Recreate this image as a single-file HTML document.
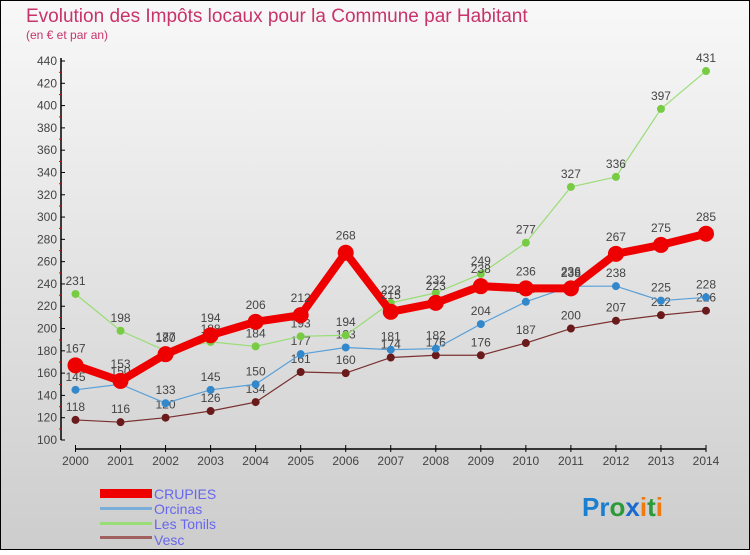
<!DOCTYPE html>
<html><head><meta charset="utf-8"><style>
html,body{margin:0;padding:0}
body{width:750px;height:550px;overflow:hidden;font-family:"Liberation Sans","DejaVu Sans",sans-serif}
</style></head><body>
<svg id="chart" width="750" height="550" xmlns="http://www.w3.org/2000/svg">
<defs><linearGradient id="bg" x1="0" y1="0" x2="0" y2="1"><stop offset="0" stop-color="#f8f8f8"/><stop offset="1" stop-color="#cdcdcd"/></linearGradient></defs>
<rect x="0.5" y="0.5" width="749" height="549" fill="url(#bg)" stroke="#000"/>
<text x="26" y="22" font-size="19" fill="#c8336a">Evolution des Impôts locaux pour la Commune par Habitant</text>
<text x="26" y="39" font-size="12" fill="#c8336a">(en € et par an)</text>
<g id="axes"></g><g id="series"></g>
<g>
<rect x="100" y="489" width="52" height="9" fill="#e00"/>
<text x="154" y="499" font-size="14" fill="#6666ee">CRUPIES</text>
<rect x="100" y="507" width="52" height="3" fill="#7aaed8"/>
<text x="154" y="514" font-size="14" fill="#6666ee">Orcinas</text>
<rect x="100" y="522" width="52" height="3" fill="#99dd77"/>
<text x="154" y="529" font-size="14" fill="#6666ee">Les Tonils</text>
<rect x="100" y="536" width="52" height="3" fill="#a06060"/>
<text x="154" y="545" font-size="14" fill="#6666ee">Vesc</text>
</g>
<text x="582" y="516" font-size="26" font-weight="bold"><tspan fill="#1a7fd0">Pr</tspan><tspan fill="#2a9a3a">o</tspan><tspan fill="#1a6ad0">x</tspan><tspan fill="#f07a10">i</tspan><tspan fill="#2a9a3a">t</tspan><tspan fill="#f07a10">i</tspan></text>
</svg>
<script>
const years=[2000,2001,2002,2003,2004,2005,2006,2007,2008,2009,2010,2011,2012,2013,2014];
const yTicks=[100,120,140,160,180,200,220,240,260,280,300,320,340,360,380,400,420,440];
const crupies=[167,153,177,194,206,212,268,215,223,238,236,236,267,275,285];
const orcinas=[145,150,133,145,150,177,183,181,182,204,224,238,238,225,228];
const lesTonils=[231,198,180,188,184,193,194,223,232,249,277,327,336,397,431];
const vesc=[118,116,120,126,134,161,160,174,176,176,187,200,207,212,216];
const NS="http://www.w3.org/2000/svg";
function xs(i){return 75.5+i*(706-75.5)/(years.length-1);}
function ys(v){return 440-(v-100)*(440-61)/(440-100);}
function mk(t,a,p){const e=document.createElementNS(NS,t);for(const k in a)e.setAttribute(k,a[k]);p.appendChild(e);return e;}
const ax=document.getElementById('axes');
let yl=mk('line',{x1:61,y1:58,x2:61,y2:440,stroke:'#000','stroke-width':1.5},ax);


yTicks.forEach((t,i)=>{
 const y=ys(t);
 const tk=mk('line',{x1:61,y1:y,x2:65,y2:y,stroke:'#000'},ax);
 
 
 if(i<yTicks.length-1){const m=mk('line',{x1:59,y1:y-11,x2:61,y2:y-11,stroke:'#e00'},ax);
 
 }
 const tx=mk('text',{x:57,y:y+4,'font-size':12,fill:'#444','text-anchor':'end'},ax);tx.textContent=t;
 
 
});
let xl=mk('line',{x1:75.5,y1:449,x2:706,y2:449,stroke:'#000','stroke-width':1.5},ax);


years.forEach((yr,i)=>{
 const x=xs(i);
 const tk=mk('line',{x1:x,y1:445,x2:x,y2:452,stroke:'#000'},ax);
 
 
 const tx=mk('text',{x:x,y:465,'font-size':12,fill:'#444','text-anchor':'middle'},ax);tx.textContent=yr;
 
 
});
const sg=document.getElementById('series');
function draw(vals,name,color,w,r,mcol){
 const g=mk('g',{},sg);
 
 
 const pl=mk('polyline',{points:vals.map((v,i)=>xs(i)+','+ys(v)).join(' '),fill:'none',stroke:color,'stroke-width':w,'stroke-linejoin':'round'},g);
 
 
 vals.forEach((v,i)=>{
  const c=mk('circle',{cx:xs(i),cy:ys(v),r:r,fill:mcol},g);
  
  
  const t=mk('text',{x:xs(i),y:ys(v)-r-5,'font-size':12,fill:'#444','text-anchor':'middle'},g);t.textContent=v;
  
  
 });
}
draw(vesc,'vesc','#7a3030',1.2,4,'#6a1a1a');
draw(orcinas,'orcinas','#5aa0d8',1.2,4,'#3388cc');
draw(lesTonils,'les-tonils','#99dd77',1.2,4,'#77cc44');
draw(crupies,'crupies','#ee0000',8,8,'#ee0000');
</script>
</body></html>
